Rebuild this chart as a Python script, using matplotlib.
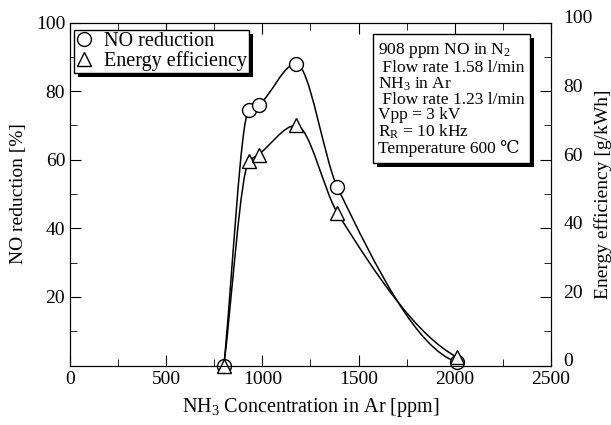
import numpy as np
import matplotlib
matplotlib.use("Agg")
import matplotlib.pyplot as plt
from matplotlib.path import Path
from matplotlib.patches import PathPatch
import matplotlib.patheffects as pe
import matplotlib.transforms as mtransforms
from matplotlib.lines import Line2D

plt.rcParams['font.family'] = ['Liberation Serif', 'DejaVu Serif']
plt.rcParams['mathtext.fontset'] = 'custom'
plt.rcParams['mathtext.rm'] = 'Liberation Serif'
plt.rcParams['mathtext.it'] = 'Liberation Serif:italic'

# Data
nh3_ppm = [800, 930, 980, 1175, 1390, 2010]
no_reduction = [0, 74.5, 76, 88, 52, 1]
energy_eff = [0, 59.5, 61.5, 70, 44.5, 2.5]

x_ticks = [0, 500, 1000, 1500, 2000, 2500]
left_ticks = [20, 40, 60, 80, 100]
right_ticks = [0, 20, 40, 60, 80, 100]

info_lines = ["908 ppm NO in N$_2$",
              " Flow rate 1.58 l/min",
              "NH$_3$ in Ar",
              " Flow rate 1.23 l/min",
              "Vpp = 3 kV",
              "R$_\\mathrm{R}$ = 10 kHz",
              "Temperature 600 \u2103"]


def pchip_slopes(xs, ys):
    h = np.diff(xs)
    s = np.diff(ys) / h
    n = len(xs)
    d = np.zeros(n)
    for k in range(1, n - 1):
        if s[k - 1] * s[k] <= 0:
            d[k] = 0.0
        else:
            w1 = 2 * h[k] + h[k - 1]
            w2 = h[k] + 2 * h[k - 1]
            d[k] = (w1 + w2) / (w1 / s[k - 1] + w2 / s[k])
    d[0] = s[0]
    e = ((2 * h[-1] + h[-2]) * s[-1] - h[-1] * s[-2]) / (h[-1] + h[-2])
    if np.sign(e) != np.sign(s[-1]):
        e = 0.0
    d[-1] = e
    return d


def smooth_path(xs, ys):
    xs = np.asarray(xs, float)
    ys = np.asarray(ys, float)
    d = pchip_slopes(xs, ys)
    verts = [(xs[0], ys[0])]
    codes = [Path.MOVETO]
    for i in range(len(xs) - 1):
        h = xs[i + 1] - xs[i]
        verts += [(xs[i] + h / 3, ys[i] + d[i] * h / 3),
                  (xs[i + 1] - h / 3, ys[i + 1] - d[i + 1] * h / 3),
                  (xs[i + 1], ys[i + 1])]
        codes += [Path.CURVE4] * 3
    return Path(verts, codes)


fig = plt.figure(figsize=(6.11, 4.25), dpi=100)
ax = fig.add_axes([0.1146, 0.14, 0.787, 0.807])
ax.set_xlim(0, 2500)
ax.set_ylim(0, 100)

ax.add_patch(PathPatch(smooth_path(nh3_ppm, no_reduction), fill=False, lw=1.1, color='black', zorder=2))
ax.add_patch(PathPatch(smooth_path(nh3_ppm, energy_eff), fill=False, lw=1.1, color='black', zorder=2))
ax.plot(nh3_ppm, no_reduction, ls='none', marker='o', ms=10, mfc='white', mec='black', mew=1.0, zorder=3,
        clip_on=False)
ax.plot(nh3_ppm, energy_eff, ls='none', marker='^', ms=10, mfc='white', mec='black', mew=1.0, zorder=4,
        clip_on=False)

ax.set_xticks(x_ticks)
ax.set_xticks(np.arange(250, 2500, 500), minor=True)
ax.set_yticks(left_ticks)
ax.set_yticks(np.arange(10, 100, 20), minor=True)
ax.tick_params(which='both', direction='in', top=True, right=False, labelsize=14)
ax.tick_params(which='major', length=8)
ax.tick_params(which='minor', length=5)
ax.tick_params(axis='x', pad=4)
ax.set_xlabel("NH$_3$ Concentration in Ar [ppm]", fontsize=14.5, labelpad=6)
ax.set_ylabel("NO reduction [%]", fontsize=14, labelpad=6)

ax2 = ax.twinx()
ax2.set_ylim(0, 100)
ax2.set_yticks(right_ticks)
ax2.set_yticks(np.arange(10, 100, 20), minor=True)
ax2.tick_params(which='both', direction='in', labelsize=14, pad=9)
ax2.tick_params(which='major', length=8)
ax2.tick_params(which='minor', length=5)
ax2.set_ylabel("Energy efficiency [g/kWh]", fontsize=14, labelpad=1)
shift = mtransforms.ScaledTranslation(0, 4 / 72, fig.dpi_scale_trans)
for lab in ax2.get_yticklabels():
    lab.set_transform(lab.get_transform() + shift)

handles = [Line2D([], [], ls='none', marker='o', ms=10, mfc='white', mec='black'),
           Line2D([], [], ls='none', marker='^', ms=10, mfc='white', mec='black')]
leg = ax2.legend(handles, ["NO reduction", "Energy efficiency"], loc='upper left',
                 bbox_to_anchor=(0.0, 0.99), fontsize=14.5, frameon=True, fancybox=False,
                 edgecolor='black', framealpha=1, handlelength=0.8, handletextpad=0.6,
                 borderpad=0.1, labelspacing=0.0, borderaxespad=0.2)
leg.get_frame().set_linewidth(1.0)
leg.get_frame().set_path_effects([pe.SimplePatchShadow(offset=(3, -3), shadow_rgbFace='black', alpha=1),
                                  pe.Normal()])

txt = ax2.text(0.64, 0.945, "\n".join(info_lines), transform=ax2.transAxes, ha='left', va='top',
               fontsize=12.5, linespacing=0.95,
               bbox=dict(boxstyle='square,pad=0.3', fc='white', ec='black', lw=1.0))
txt.get_bbox_patch().set_path_effects([pe.SimplePatchShadow(offset=(3, -3), shadow_rgbFace='black', alpha=1),
                                       pe.Normal()])

fig.savefig("out.png", dpi=100)
